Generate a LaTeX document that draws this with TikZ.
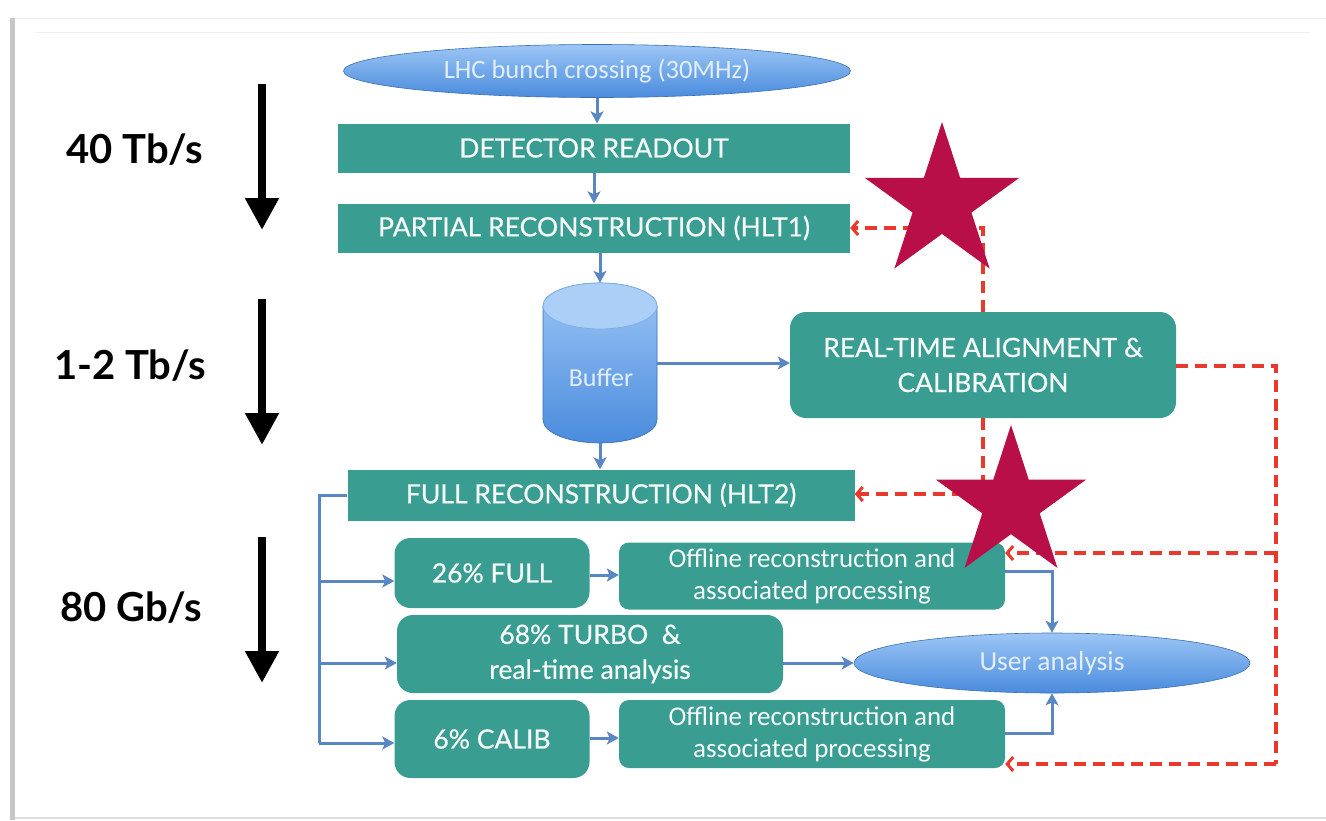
\documentclass[tikz,border=0pt]{standalone}
\usepackage{fontspec}
\setmainfont{Lato}
\newfontfamily\calfont{Carlito}
\newfontfamily\boxfont[FakeBold=0.6]{Lato}
\usetikzlibrary{shapes.geometric,arrows.meta}
\definecolor{tealc}{HTML}{3A9D91}
\definecolor{bluel}{HTML}{5A86C4}
\definecolor{redc}{HTML}{E8392C}
\definecolor{starc}{HTML}{B80F48}
\definecolor{elltop}{HTML}{9CC6F5}
\definecolor{ellbot}{HTML}{4A8BDD}
\definecolor{elltext}{HTML}{E2EEFB}
\begin{document}
\begin{tikzpicture}[x=1pt,y=-1pt,
  box/.style={fill=tealc, text=white!95!tealc, inner sep=0pt, align=center,
    font=\boxfont\fontsize{26.5}{35}\selectfont},
  sqbox/.style={box, rectangle},
  rndbox/.style={box, rounded corners=16pt},
  offbox/.style={box, rounded corners=10pt, font=\calfont\fontsize{27}{32}\selectfont},
  blueell/.style={ellipse, inner sep=0pt, top color=elltop, bottom color=ellbot,
    draw=ellbot!80!black, line width=0.6pt, text=elltext},
  barrow/.style={draw=bluel, line width=3pt, -{Stealth[length=12pt,width=13pt,inset=3pt]}},
  bline/.style={draw=bluel, line width=3pt},
  rarrow/.style={draw=redc, line width=3.8pt, dash pattern=on 12pt off 7pt,
    -{Straight Barb[length=6pt,width=14pt,line width=3pt]}},
  rline/.style={draw=redc, line width=3.8pt, dash pattern=on 12pt off 7pt},
  rate/.style={font=\bfseries\fontsize{40}{42}\selectfont, text=black, inner sep=0pt},
  bigarrow/.style={draw=black, line width=8pt, -{Triangle[length=32pt,width=32pt]}},
  starshape/.style={star, star points=5, star point ratio=2.618, fill=starc,
    inner sep=0pt, minimum size=162pt}
]
\useasboundingbox (0,0) rectangle (1326,820);
% page frame
\fill[white] (0,0) rectangle (1326,820);
\fill[gray!45] (10,18) rectangle (15,820);
\draw[gray!15, line width=1pt] (15,18) -- (1326,18);
\draw[gray!12, line width=0.8pt] (35,32) -- (1310,32);
\draw[gray!25, line width=1.5pt] (15,818) -- (1326,818);

% rates
\node[rate] (r1) at (135,150) {40 Tb/s};
\node[rate] (r2) at (130,366) {1-2 Tb/s};
\node[rate] (r3) at (131,608) {80 Gb/s};
\coordinate (a1s) at (262,84);  \coordinate (a1e) at (262,230);
\coordinate (a2s) at (262,299); \coordinate (a2e) at (262,445);
\coordinate (a3s) at (262,537); \coordinate (a3e) at (262,683);
\draw[bigarrow] (a1s) -- (a1e);
\draw[bigarrow] (a2s) -- (a2e);
\draw[bigarrow] (a3s) -- (a3e);

% top chain
\node[blueell, minimum width=507pt, minimum height=53pt, font=\calfont\fontsize{26.5}{30}\selectfont] (lhc) at (597,71) {LHC bunch crossing (30MHz)};
\node[sqbox, minimum width=512pt, minimum height=49pt] (det) at (594,148) {DETECTOR READOUT};
\node[sqbox, minimum width=512pt, minimum height=49pt] (p1) at (594,228) {PARTIAL RECONSTRUCTION (HLT1)};

% buffer cylinder
\node[minimum width=114pt, minimum height=160pt, inner sep=0pt] (buf) at (600,363) {};
\shade[top color=elltop, bottom color=ellbot, draw=ellbot!80!black, line width=0.6pt]
  (543,306) -- (543,420) arc (180:360:57pt and 23pt) -- (657,306) arc (0:180:57pt and 23pt) -- cycle;
\draw[fill=elltop!85!white, draw=ellbot!70!white, line width=0.8pt] (600,306) ellipse (57pt and 23pt);
\node[text=elltext, font=\calfont\fontsize{26}{30}\selectfont] (buftext) at (601,378) {Buffer};

\node[rndbox, minimum width=386pt, minimum height=106pt] (rta) at (983,365) {REAL-TIME ALIGNMENT \&\\CALIBRATION};
\node[sqbox, minimum width=507pt, minimum height=51pt] (full) at (601,495) {FULL RECONSTRUCTION (HLT2)};

% lower nodes
\node[rndbox, minimum width=195pt, minimum height=70pt] (f26) at (492,573) {26\% FULL};
\node[offbox, minimum width=386pt, minimum height=67pt] (off1) at (812,576) {Offline reconstruction and\\associated processing};
\node[rndbox, minimum width=386pt, minimum height=78pt] (turbo) at (590,654) {68\% TURBO\ \ \&\\real-time analysis};
\node[blueell, minimum width=396pt, minimum height=60pt, font=\calfont\fontsize{27.5}{30}\selectfont] (user) at (1052,663) {User analysis};
\node[rndbox, minimum width=195pt, minimum height=78pt] (calib) at (492,739) {6\% CALIB};
\node[offbox, minimum width=386pt, minimum height=68pt] (off2) at (812,734) {Offline reconstruction and\\associated processing};

% blue connectors
\draw[barrow] (lhc.south) -- (lhc.south |- det.north);
\draw[barrow] (det.south) -- (p1.north);
\draw[barrow] (p1.south -| buf.north) -- (buf.north);
\draw[barrow] (buf.east) -- (buf.east -| rta.west);
\draw[barrow] (buf.south) -- (buf.south |- full.north);
\coordinate (bus) at (319,495);
\draw[bline] (full.west) -- (bus) -- (319,743);
\draw[barrow] (319,581) -- (f26.west |- 0,581);
\draw[barrow] (319,663) -- (turbo.west |- 0,663);
\draw[barrow] (319,743) -- (calib.west |- 0,743);
\draw[barrow] (f26.east |- 0,575) -- (off1.west |- 0,575);
\draw[barrow] (calib.east |- 0,738) -- (off2.west |- 0,738);
\draw[barrow] (turbo.east |- user.west) -- (user.west);
\draw[barrow] (off1.east |- 0,571) -- (1052,571) -- (user.north);
\draw[barrow] (off2.east |- 0,733) -- (1052,733) -- (user.south);

% red dashed feedback
\draw[rarrow] (rta.north) -- (983,228) -- (p1.east);
\draw[rarrow] (rta.south) -- (983,494) -- (full.east |- 0,494);
\coordinate (rc) at (1276,366);
\draw[rline] (rta.east |- rc) -- (rc) -- (1276,764);
\draw[rarrow] (1276,553) -- (off1.east |- 0,553);
\draw[rarrow] (1276,764) -- (off2.east |- 0,764);

% stars
\node[starshape] (s1) at (942,203) {};
\node[starshape, minimum size=158pt] (s2) at (1011,504) {};
\end{tikzpicture}
\end{document}
